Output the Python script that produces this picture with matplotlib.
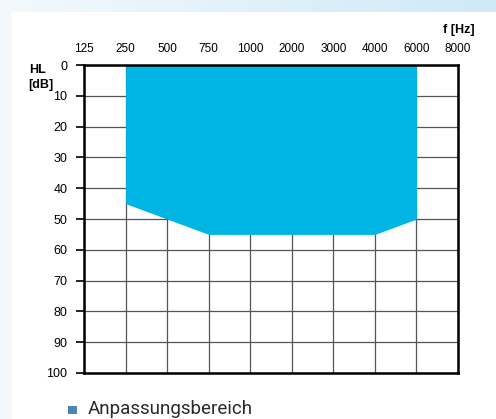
import numpy as np
import matplotlib
matplotlib.use("Agg")
import matplotlib.pyplot as plt
from matplotlib.patches import Rectangle

plt.rcParams['font.family'] = ['Liberation Sans', 'DejaVu Sans']

# frequencies (categorical axis) and the fitting range
freqs = ['125', '250', '500', '750', '1000', '2000', '3000', '4000', '6000', '8000']
range_freqs = ['250', '500', '750', '1000', '2000', '3000', '4000', '6000']
range_top = [0, 0, 0, 0, 0, 0, 0, 0]
range_bottom = [45, 50, 55, 55, 55, 55, 55, 50]
hl_ticks = [0, 10, 20, 30, 40, 50, 60, 70, 80, 90, 100]
legend_label = 'Anpassungsbereich'

fig = plt.figure(figsize=(4.96, 4.19), dpi=100)

# background: light blue band on top, pale strip left, white panel
bg = fig.add_axes([0, 0, 1, 1], zorder=-10)
bg.set_xlim(0, 496)
bg.set_ylim(419, 0)
bg.axis('off')
grad = np.linspace(0, 1, 256).reshape(1, -1)
bg.imshow(grad, extent=[0, 496, 12, 0], aspect='auto',
          cmap=matplotlib.colors.LinearSegmentedColormap.from_list('b', ['#f3f9fd', '#cfe9f6']))
bg.add_patch(Rectangle((0, 12), 12, 407, color='#f2f8fc', lw=0))
bg.add_patch(Rectangle((12, 12), 484, 407, color='white', lw=0))

ax = fig.add_axes([0.1694, 0.1098, 0.754, 0.735])
x = np.arange(len(freqs))
xr = [freqs.index(f) for f in range_freqs]

ax.fill_between(xr, range_top, range_bottom, color='#00b4e4', lw=0, zorder=3)

ax.set_xlim(0, len(freqs) - 1)
ax.set_ylim(100, 0)
ax.set_yticks(hl_ticks)
ax.set_xticks(x)
ax.set_xticklabels(freqs)
ax.xaxis.tick_top()
ax.tick_params(axis='x', length=0, pad=7, labelsize=8.5)
ax.set_xticks([2, 4, 6, 8], minor=True)
ax.tick_params(axis='x', which='minor', length=3, width=1.2, top=True, bottom=False, color='black')
ax.tick_params(axis='y', length=6, width=1.2, direction='out', labelsize=9, pad=6)
ax.grid(True, color='#555555', lw=0.9, zorder=1)
ax.set_axisbelow(True)
for s in ax.spines.values():
    s.set_linewidth(1.8)
    s.set_zorder(4)

fig.text(0.956, 0.929, 'f [Hz]', ha='right', va='center', fontsize=9, fontweight='bold')
fig.text(0.092, 0.833, 'HL', ha='right', va='center', fontsize=9, fontweight='bold')
fig.text(0.107, 0.797, '[dB]', ha='right', va='center', fontsize=9, fontweight='bold')

# legend
fig.patches.append(Rectangle((68 / 496, 1 - 414 / 419), 9 / 496, 8 / 419, transform=fig.transFigure,
                             color='#4f81bd', lw=0, figure=fig))
fig.text(88 / 496, 1 - 409 / 419, legend_label, ha='left', va='center', fontsize=13.5,
         family=['Roboto', 'DejaVu Sans'], color='#2a2a2a')

fig.savefig('out.png', dpi=100)
